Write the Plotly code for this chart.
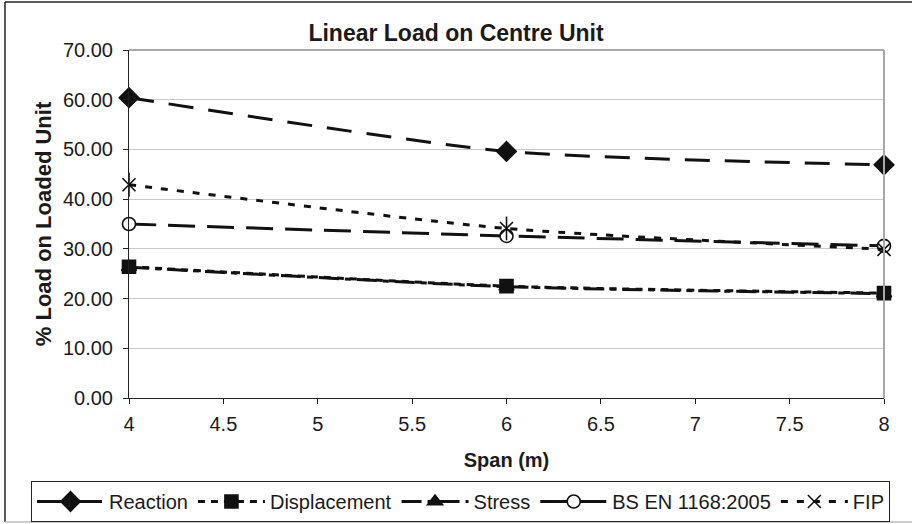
import plotly.graph_objects as go

# Span (m)
span = [4, 6, 8]

# % load carried by the loaded centre unit, per method
reaction = [60.4, 49.6, 46.9]
displacement = [26.4, 22.5, 21.1]
stress = [26.3, 22.4, 21.0]
bs_en = [35.0, 32.6, 30.6]
fip = [42.9, 34.1, 29.9]

y_ticks = [0, 10, 20, 30, 40, 50, 60, 70]
x_ticks = [4, 4.5, 5, 5.5, 6, 6.5, 7, 7.5, 8]

INK = "#111111"
TXT = "#1a1a1a"
FONT = "Liberation Sans, Arial, sans-serif"

# name, values, marker symbol, marker fill, marker size, dash pattern
series = [
    ("Reaction", reaction, "diamond", INK, 15, "25px,15px"),
    ("Stress", stress, "triangle-up", INK, 13, "20px,6px,6px,6px"),
    ("Displacement", displacement, "square", INK, 13, "7px,6px"),
    ("BS EN 1168:2005", bs_en, "circle", "white", 13, "27px,12px"),
    ("FIP", fip, "x-thin-open", INK, 13, "7px,9px"),
]
legend_order = ["Reaction", "Displacement", "Stress", "BS EN 1168:2005", "FIP"]

fig = go.Figure()
for name, vals, sym, fill, size, dash in series:
    fig.add_trace(go.Scatter(
        x=span, y=vals, name=name,
        mode="lines+markers",
        cliponaxis=False,
        legendrank=legend_order.index(name),
        line=dict(color=INK, width=3, dash=dash, shape="spline", smoothing=0.6),
        marker=dict(symbol=sym, size=size, color=fill,
                    line=dict(color=INK, width=1.6)),
    ))

# Vertical stroke that turns the FIP crosses into six-armed stars
fig.add_trace(go.Scatter(
    x=span, y=fip, mode="markers", showlegend=False, cliponaxis=False, hoverinfo="skip",
    marker=dict(symbol="line-ns-open", size=17, color=INK, line=dict(color=INK, width=1.6)),
))

ph, pw = 348, 755  # plot-area size in px

fig.update_layout(
    width=912, height=524,
    margin=dict(l=129, r=28, t=50, b=126, autoexpand=False),
    paper_bgcolor="white", plot_bgcolor="white",
    font=dict(family=FONT, size=20, color=TXT),
    title=dict(text="<b>Linear Load on Centre Unit</b>", x=0.5, xanchor="center",
               y=1 - 33 / 524, yanchor="middle", font=dict(size=23, color=TXT)),
    showlegend=True,
    legend=dict(orientation="h", x=(31 - 129) / pw, xanchor="left",
                y=(398 - 481) / ph, yanchor="top",
                bordercolor="#222", borderwidth=1, font=dict(size=20, color=TXT),
                itemwidth=67, traceorder="normal"),
    xaxis=dict(range=[4, 8], tickvals=x_ticks, ticktext=[f"{v:g}" for v in x_ticks],
               showgrid=False, zeroline=False, showline=True, linecolor="#222", linewidth=1,
               ticks="outside", ticklen=5, tickcolor="#222", automargin=False,
               ticklabelstandoff=3,
               title=dict(text="<b>Span (m)</b>", font=dict(size=20, color=TXT), standoff=18)),
    yaxis=dict(range=[0, 70], tickvals=y_ticks, ticktext=[f"{v:.2f}" for v in y_ticks],
               showgrid=True, gridcolor="#c8c8c8", gridwidth=1, zeroline=False,
               showline=True, linecolor="#222", linewidth=1,
               ticks="outside", ticklen=5, tickcolor="#222", automargin=False,
               ticklabelstandoff=6,
               title=dict(text="<b>% Load on Loaded Unit</b>", font=dict(size=22, color=TXT), standoff=5)),
)

# Plot-area border (top and right)
fig.add_shape(type="line", xref="paper", yref="paper", x0=0, x1=1, y0=1, y1=1,
              line=dict(color="#a8a8a8", width=2))
fig.add_shape(type="line", xref="paper", yref="paper", x0=1, x1=1, y0=0, y1=1,
              line=dict(color="#a8a8a8", width=2))

# Outer chart frame
left, top, bottom, right = (5 - 129) / pw, (398 - 2) / ph, (398 - 522) / ph, (915 - 129) / pw
fig.add_shape(type="line", xref="paper", yref="paper", x0=left, x1=right, y0=top, y1=top,
              line=dict(color="#222", width=1.5))
fig.add_shape(type="line", xref="paper", yref="paper", x0=left, x1=left, y0=top, y1=bottom,
              line=dict(color="#222", width=1.5))
fig.add_shape(type="line", xref="paper", yref="paper", x0=left, x1=right, y0=bottom, y1=bottom,
              line=dict(color="#bbbbbb", width=1.5))

fig.write_html("out.html")
